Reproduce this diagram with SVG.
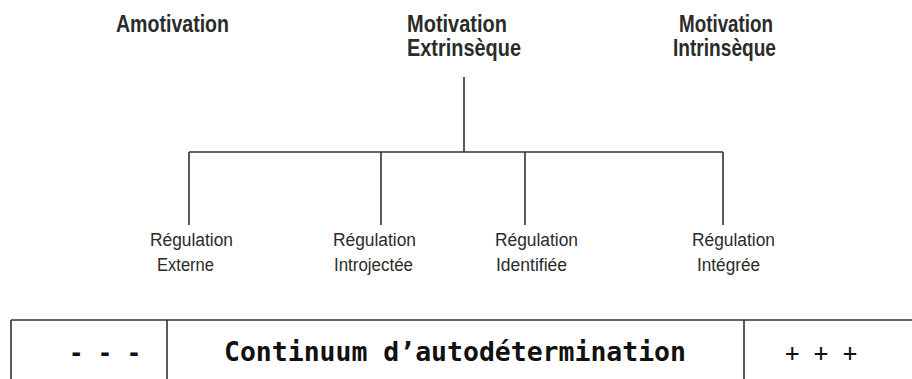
<svg xmlns="http://www.w3.org/2000/svg" width="912" height="379" viewBox="0 0 912 379">
<style>
.h{font-family:"Liberation Sans",Arial,sans-serif;font-weight:bold;font-size:24px;fill:#2b2b2b}
.r{font-family:"Liberation Sans",Arial,sans-serif;font-size:18px;fill:#2b2b2b}
.m{font-family:"DejaVu Sans Mono","Liberation Mono",monospace;fill:#111}
.ln{stroke:#333;stroke-width:1.6;fill:none}
</style>
<rect width="912" height="379" fill="#fff"/>
<g id="amotivation"><text class="h" x="116" y="32" textLength="113" lengthAdjust="spacingAndGlyphs">Amotivation</text></g>
<g id="extrinseque"><text class="h" x="407" y="32" textLength="100" lengthAdjust="spacingAndGlyphs">Motivation</text><text class="h" x="407" y="56" textLength="114" lengthAdjust="spacingAndGlyphs">Extrinsèque</text></g>
<g id="intrinseque"><text class="h" x="679" y="32" textLength="94" lengthAdjust="spacingAndGlyphs">Motivation</text><text class="h" x="673" y="56" textLength="103" lengthAdjust="spacingAndGlyphs">Intrinsèque</text></g>
<g id="externe"><text class="r" x="150" y="246" textLength="83" lengthAdjust="spacingAndGlyphs">Régulation</text><text class="r" x="157" y="271" textLength="57" lengthAdjust="spacingAndGlyphs">Externe</text></g>
<g id="introjectee"><text class="r" x="333" y="246" textLength="83" lengthAdjust="spacingAndGlyphs">Régulation</text><text class="r" x="334" y="271" textLength="79" lengthAdjust="spacingAndGlyphs">Introjectée</text></g>
<g id="identifiee"><text class="r" x="495" y="246" textLength="83" lengthAdjust="spacingAndGlyphs">Régulation</text><text class="r" x="496" y="271" textLength="71" lengthAdjust="spacingAndGlyphs">Identifiée</text></g>
<g id="integree"><text class="r" x="692" y="246" textLength="83" lengthAdjust="spacingAndGlyphs">Régulation</text><text class="r" x="697" y="271" textLength="63" lengthAdjust="spacingAndGlyphs">Intégrée</text></g>
<g id="connectors">
<path class="ln" d="M464 77V152M189 152H723M189 152V225M381 152V225M525 152V225M723 152V225"/>
</g>
<g id="continuum">
<path class="ln" d="M11 320H912M11 320V379M167 320V379M744 320V379"/>
<text class="m" x="105" y="361" font-size="24" text-anchor="middle" font-weight="bold">- - -</text>
<text class="m" x="455" y="361" font-size="26.4" text-anchor="middle" font-weight="bold" textLength="462" lengthAdjust="spacingAndGlyphs">Continuum d’autodétermination</text>
<text class="m" x="821" y="361" font-size="24" text-anchor="middle">+ + +</text>
</g>
</svg>
